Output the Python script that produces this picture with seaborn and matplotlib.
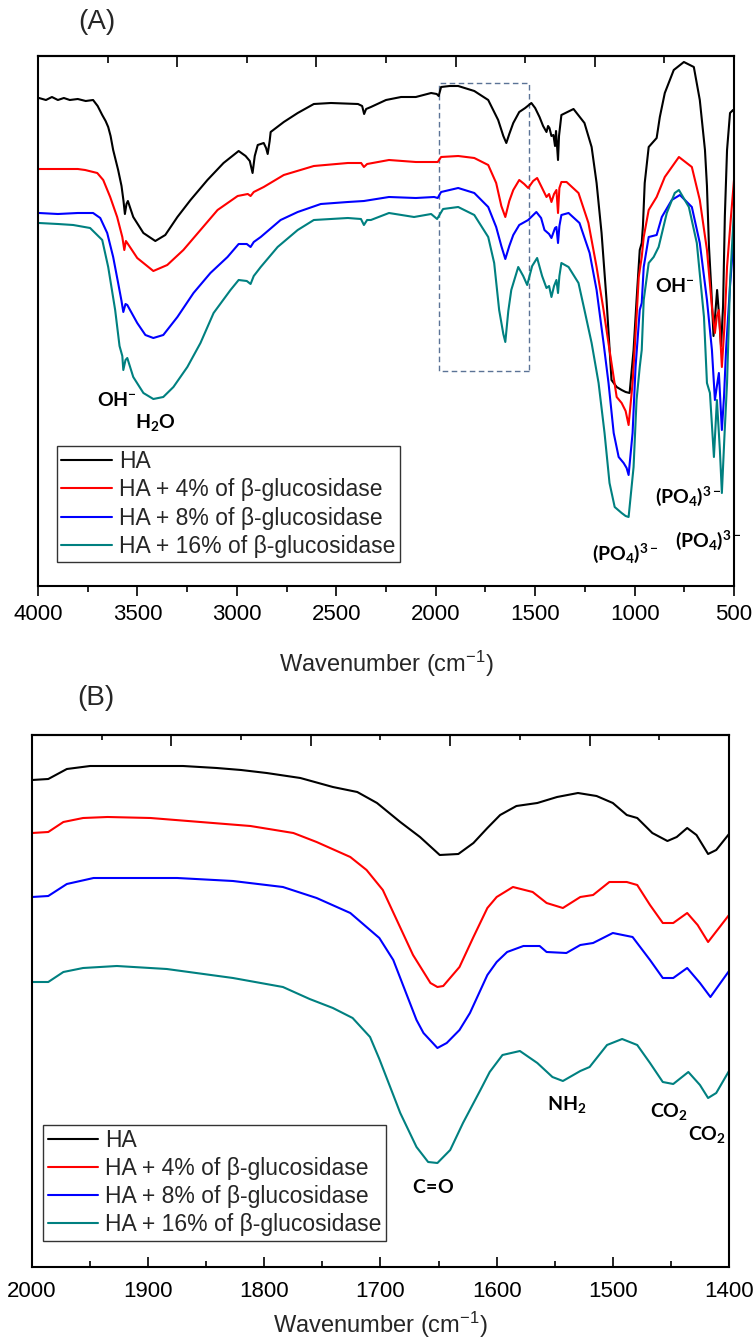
import matplotlib
matplotlib.use("Agg")
import numpy as np
import pandas as pd
import matplotlib.pyplot as plt
from matplotlib.ticker import MultipleLocator, FixedLocator, FormatStrFormatter
from matplotlib.patches import Rectangle
import seaborn as sns

# ---------------- data ----------------
SAMPLES = ["HA", "HA + 4% of β-glucosidase", "HA + 8% of β-glucosidase",
           "HA + 16% of β-glucosidase"]
COLORS = ["#000000", "#ff0000", "#0000ff", "#008080"]

# Panel A : full spectra (wavenumber, transmittance a.u.)
A_HA_WN = [3995, 3960, 3930, 3900, 3870, 3840, 3800, 3760, 3723, 3700, 3677, 3660, 3647, 3635,
           3622, 3597, 3580, 3570, 3563, 3555, 3548, 3521, 3470, 3410, 3360, 3299, 3233, 3148,
           3067, 2991, 2956, 2935, 2921, 2910, 2895, 2865, 2853, 2845, 2835, 2830, 2764, 2694,
           2613, 2527, 2391, 2370, 2360, 2350, 2326, 2250, 2174, 2100, 2023, 1995, 1985, 1973,
           1930, 1887, 1806, 1736, 1686, 1660, 1645, 1630, 1610, 1580, 1550, 1519, 1500, 1478,
           1460, 1443, 1435, 1428, 1418, 1408, 1400, 1395, 1385, 1380, 1368, 1307, 1252, 1216,
           1191, 1166, 1141, 1116, 1090, 1065, 1045, 1025, 1005, 990, 974, 964, 958, 949, 929,
           889, 873, 848, 803, 752, 702, 672, 646, 636, 626, 615, 603, 595, 585, 575, 565, 555,
           546, 535, 520, 505, 500]
A_HA_T = [488, 486, 489, 486, 488, 486, 487, 485, 486, 480, 471, 465, 459, 450,
          436, 416, 400, 385, 372, 382, 385, 369, 353, 345, 351, 369, 386, 406,
          423, 435, 430, 425, 413, 430, 441, 443, 438, 432, 445, 454, 464, 473,
          482, 483, 482, 480, 472, 477, 479, 486, 489, 489, 493, 492, 490, 499,
          500, 500, 495, 486, 466, 450, 443, 452, 463, 474, 478, 483, 478, 469,
          460, 454, 460, 458, 450, 451, 440, 455, 426, 450, 471, 477, 463, 439,
          403, 353, 286, 206, 199, 196, 194, 193, 236, 286, 336, 343, 360, 403, 439,
          448, 469, 493, 516, 524, 519, 486, 436, 400, 340, 300, 250, 270, 296, 270, 240, 280,
          370, 436, 473, 476, 474]

A_4_WN = [3995, 3900, 3800, 3763, 3702, 3672, 3637, 3602, 3576, 3566, 3558, 3551, 3501, 3420,
          3350, 3269, 3183, 3097, 2996, 2945, 2931, 2915, 2865, 2764, 2613, 2442, 2375, 2361,
          2345, 2235, 2100, 2008, 1990, 1973, 1887, 1806, 1736, 1696, 1670, 1650, 1630, 1610,
          1580, 1555, 1535, 1510, 1490, 1470, 1443, 1430, 1418, 1405, 1393, 1385, 1378, 1368,
          1342, 1282, 1232, 1191, 1156, 1126, 1090, 1065, 1045, 1030, 1010, 990, 979, 964, 954,
          929, 889, 848, 777, 712, 672, 636, 611, 596, 586, 576, 561, 548, 535, 515, 500]
A_4_T = [417, 417, 417, 416, 413, 406, 389, 369, 349, 336, 345, 343, 328, 315,
         321, 336, 356, 376, 390, 392, 390, 394, 399, 411, 420, 423, 423, 419,
         422, 426, 424, 424, 424, 429, 430, 428, 421, 403, 380, 369, 385, 396,
         406, 402, 398, 405, 408, 400, 389, 392, 384, 392, 396, 373, 398, 404,
         404, 393, 363, 319, 276, 236, 189, 183, 175, 161, 203, 269, 309, 329, 349,
         376, 389, 409, 429, 419, 386, 336, 279, 253, 270, 276, 219, 260, 319, 370, 406]

A_8_WN = [3995, 3900, 3800, 3723, 3687, 3652, 3622, 3597, 3580, 3571, 3560, 3551, 3501, 3460,
          3420, 3370, 3299, 3218, 3133, 3047, 2991, 2950, 2931, 2915, 2880, 2780, 2694, 2578,
          2442, 2361, 2235, 2100, 2008, 1990, 1973, 1887, 1806, 1736, 1696, 1670, 1650, 1630,
          1610, 1580, 1535, 1494, 1470, 1453, 1430, 1418, 1400, 1393, 1385, 1378, 1368, 1332,
          1277, 1226, 1191, 1156, 1131, 1105, 1080, 1055, 1040, 1030, 1010, 995, 974, 964, 954,
          929, 889, 863, 813, 772, 712, 672, 636, 611, 596, 586, 576, 561, 550, 540, 520, 500]
A_8_T = [373, 372, 373, 373, 368, 353, 329, 303, 285, 274, 282, 281, 263, 251,
         248, 251, 269, 293, 313, 329, 342, 342, 339, 344, 349, 366, 374, 382,
         384, 385, 389, 388, 389, 388, 394, 398, 393, 379, 359, 340, 327, 340,
         351, 361, 366, 374, 368, 356, 352, 348, 358, 359, 343, 360, 371, 373,
         363, 333, 296, 243, 203, 153, 129, 123, 118, 111, 153, 219, 276, 283, 319,
         349, 351, 369, 386, 391, 379, 343, 286, 236, 186, 200, 213, 156, 190, 236, 300, 353]

A_16_WN = [3995, 3900, 3823, 3738, 3677, 3647, 3612, 3590, 3576, 3571, 3560, 3551, 3521, 3470,
           3420, 3370, 3319, 3249, 3183, 3117, 3032, 2991, 2950, 2931, 2915, 2880, 2795, 2694,
           2613, 2442, 2376, 2361, 2345, 2326, 2235, 2109, 2023, 1993, 1963, 1887, 1806, 1736,
           1706, 1681, 1660, 1650, 1635, 1620, 1585, 1560, 1540, 1515, 1490, 1465, 1443, 1430,
           1418, 1405, 1393, 1385, 1378, 1368, 1332, 1282, 1252, 1216, 1181, 1151, 1126, 1100,
           1065, 1045, 1030, 1005, 990, 974, 964, 954, 929, 904, 879, 838, 798, 777, 727, 687,
           651, 636, 621, 601, 586, 571, 561, 548, 535, 520, 500]
A_16_T = [363, 362, 361, 358, 346, 319, 276, 240, 230, 216, 226, 228, 209, 193,
          187, 189, 199, 219, 243, 273, 296, 306, 305, 302, 310, 319, 339, 356,
          366, 368, 367, 361, 366, 366, 373, 369, 372, 367, 377, 379, 371, 349,
          323, 276, 252, 244, 275, 296, 319, 310, 301, 320, 328, 310, 298, 300,
          289, 300, 306, 293, 310, 323, 319, 303, 276, 243, 203, 153, 103, 79,
          73, 70, 69, 119, 186, 219, 236, 286, 323, 329, 339, 373, 393, 396, 379, 343,
          269, 203, 193, 129, 186, 136, 93, 150, 203, 303, 376]

# Panel B : 2000-1400 cm-1 detail
B_HA_WN = [2000, 1986, 1970, 1950, 1910, 1870, 1841, 1820, 1798, 1769, 1741, 1720, 1703, 1683,
           1666, 1649, 1633, 1620, 1608, 1597, 1583, 1565, 1548, 1530, 1514, 1500, 1488, 1479,
           1466, 1453, 1445, 1436, 1428, 1418, 1411, 1400]
B_HA_T = [487, 488, 498, 501, 501, 501, 499, 497, 494, 489, 480, 475, 464, 445,
          430, 412, 413, 424, 439, 452, 461, 464, 470, 474, 471, 464, 452, 449,
          434, 426, 430, 439, 432, 413, 417, 433]

B_4_WN = [2000, 1986, 1973, 1956, 1935, 1898, 1855, 1812, 1775, 1755, 1726, 1712, 1698, 1686,
          1672, 1657, 1651, 1646, 1632, 1620, 1608, 1600, 1586, 1569, 1557, 1543, 1528, 1517,
          1503, 1488, 1479, 1468, 1457, 1448, 1436, 1427, 1418, 1400]
B_4_T = [434, 435, 445, 449, 450, 449, 445, 441, 434, 425, 410, 397, 377, 347,
         312, 284, 280, 281, 300, 330, 359, 370, 380, 375, 364, 359, 370, 372,
         385, 385, 382, 362, 344, 344, 354, 342, 325, 352]

B_8_WN = [2000, 1986, 1970, 1947, 1875, 1827, 1784, 1755, 1726, 1712, 1701, 1689, 1680, 1669,
          1663, 1651, 1643, 1632, 1623, 1608, 1600, 1591, 1577, 1563, 1557, 1540, 1528, 1517,
          1500, 1483, 1468, 1457, 1448, 1436, 1425, 1416, 1400]
B_8_T = [370, 371, 383, 389, 389, 386, 380, 369, 354, 340, 329, 307, 280, 247,
         234, 219, 224, 237, 254, 292, 305, 315, 321, 321, 315, 314, 322, 324,
         334, 330, 307, 289, 289, 299, 284, 270, 296]

B_16_WN = [2000, 1986, 1973, 1956, 1927, 1884, 1827, 1784, 1761, 1741, 1724, 1709, 1701, 1695,
           1683, 1669, 1659, 1651, 1640, 1629, 1614, 1606, 1595, 1580, 1565, 1552, 1543, 1528,
           1520, 1505, 1492, 1479, 1468, 1457, 1448, 1435, 1425, 1418, 1411, 1400]
B_16_T = [285, 285, 295, 299, 301, 298, 289, 280, 268, 259, 249, 230, 208, 190,
          154, 120, 105, 104, 117, 144, 177, 195, 212, 216, 204, 190, 186, 196,
          200, 222, 228, 222, 204, 185, 183, 195, 182, 169, 174, 196]

ZOOM_BOX = (1983, 1529, 215, 503)   # wavenumber range and level of the dashed box

# ---------------- style ----------------
sns.set_style("ticks")
plt.rcParams.update({
    "font.family": ["Liberation Sans", "DejaVu Sans"],
    "mathtext.fontset": "custom",
    "mathtext.rm": "Liberation Sans",
    "mathtext.it": "Liberation Sans:italic",
    "mathtext.bf": "Lato:bold",
    "mathtext.default": "regular",
    "axes.linewidth": 1.5,
    "axes.edgecolor": "black",
    "xtick.color": "black",
    "xtick.labelcolor": "black",
})


def long_df(series):
    rows = []
    for name, wn, t in series:
        for w, v in zip(wn, t):
            rows.append((name, w, v))
    return pd.DataFrame(rows, columns=["sample", "wavenumber", "T"])


dfA = long_df([(SAMPLES[0], A_HA_WN, A_HA_T), (SAMPLES[1], A_4_WN, A_4_T),
               (SAMPLES[2], A_8_WN, A_8_T), (SAMPLES[3], A_16_WN, A_16_T)])
dfB = long_df([(SAMPLES[0], B_HA_WN, B_HA_T), (SAMPLES[1], B_4_WN, B_4_T),
               (SAMPLES[2], B_8_WN, B_8_T), (SAMPLES[3], B_16_WN, B_16_T)])

fig = plt.figure(figsize=(7.55, 13.40), dpi=100)
axA = fig.add_axes([38 / 755, 1 - 586 / 1340, 696 / 755, 530 / 1340])
axB = fig.add_axes([32 / 755, 1 - 1267 / 1340, 697 / 755, 532 / 1340])

palette = dict(zip(SAMPLES, COLORS))
for ax, df in ((axA, dfA), (axB, dfB)):
    sns.lineplot(data=df, x="wavenumber", y="T", hue="sample", hue_order=SAMPLES,
                 palette=palette, sort=False, estimator=None, linewidth=1.5, ax=ax)
    ax.set_yticks([])
    ax.set_ylabel("")
    for s in ax.spines.values():
        s.set_visible(True)
        s.set_linewidth(1.5)
        s.set_color("black")

legend_kw = dict(title=None, frameon=True, fontsize=16.5, handlelength=2.2,
                 handletextpad=0.3, labelspacing=0.22, borderpad=0.2, borderaxespad=0,
                 fancybox=False, edgecolor="#333333", framealpha=1)
sns.move_legend(axA, "lower left", bbox_to_anchor=(0.027, 0.045), **legend_kw)
sns.move_legend(axB, "lower left", bbox_to_anchor=(0.016, 0.049), **legend_kw)
for ax in (axA, axB):
    leg = ax.get_legend()
    leg.get_frame().set_linewidth(1.0)
    for ln in leg.get_lines():
        ln.set_linewidth(1.5)

# ---- panel A axes ----
axA.set_xlim(4000, 500)
axA.set_ylim(0, 530)
axA.xaxis.set_major_locator(MultipleLocator(500))
axA.xaxis.set_minor_locator(MultipleLocator(250))
axA.xaxis.set_major_formatter(FormatStrFormatter("%d"))
axA.tick_params(axis="x", which="major", direction="out", length=7, width=1.2,
                labelsize=16, pad=6, top=False)
axA.tick_params(axis="x", which="minor", direction="out", length=4.5, width=1.2, top=False)
topA = axA.secondary_xaxis("top")
topA.xaxis.set_major_locator(FixedLocator([4000, 3300, 2600, 1900, 1200, 500]))
topA.xaxis.set_minor_locator(FixedLocator([3650, 2950, 2250, 1550, 850]))
topA.tick_params(axis="x", which="major", direction="in", length=8, width=1.2, labeltop=False)
topA.tick_params(axis="x", which="minor", direction="in", length=5, width=1.2)
topA.spines["top"].set_linewidth(1.5)
axA.set_xlabel("Wavenumber (cm$^{-1}$)", fontsize=17)
axA.xaxis.set_label_coords(0.5, -0.118)

x0, x1, y0, y1 = ZOOM_BOX
axA.add_patch(Rectangle((x1, y0), x0 - x1, y1 - y0, fill=False, edgecolor="#5b7396",
                        linewidth=1.0, linestyle=(0, (4, 2.5))))

ann = dict(fontsize=14, color="black", ha="left", va="baseline")
axA.text(3702, 180, r"$\mathbf{OH^{-}}$", **ann)
axA.text(3511, 158, r"$\mathbf{H_{2}O}$", **ann)
axA.text(899, 294, r"$\mathbf{OH^{-}}$", **ann)
axA.text(1216, 26, r"$\mathbf{(PO_{4})^{3-}}$", **ann)
axA.text(899, 83, r"$\mathbf{(PO_{4})^{3-}}$", **ann)
axA.text(798, 39, r"$\mathbf{(PO_{4})^{3-}}$", **ann)

# ---- panel B axes ----
axB.set_xlim(2000, 1400)
axB.set_ylim(0, 532)
axB.xaxis.set_major_locator(MultipleLocator(100))
axB.xaxis.set_minor_locator(MultipleLocator(50))
axB.xaxis.set_major_formatter(FormatStrFormatter("%d"))
axB.tick_params(axis="x", which="major", direction="in", length=7, width=1.2,
                labelsize=16, pad=10, top=False)
axB.tick_params(axis="x", which="minor", direction="in", length=4.5, width=1.2, top=False)
topB = axB.secondary_xaxis("top")
topB.xaxis.set_major_locator(FixedLocator([2000, 1880, 1760, 1640, 1520, 1400]))
topB.xaxis.set_minor_locator(FixedLocator([1940, 1820, 1700, 1580, 1460]))
topB.tick_params(axis="x", which="major", direction="in", length=8, width=1.2, labeltop=False)
topB.tick_params(axis="x", which="minor", direction="in", length=3.5, width=1.2)
topB.spines["top"].set_linewidth(1.5)
axB.set_xlabel("Wavenumber (cm$^{-1}$)", fontsize=17)
axB.xaxis.set_label_coords(0.5, -0.08)

axB.text(1673, 74, r"$\mathbf{C\!=\!O}$", **ann)
axB.text(1557, 157, r"$\mathbf{NH_{2}}$", **ann)
axB.text(1468, 150, r"$\mathbf{CO_{2}}$", **ann)
axB.text(1435, 127, r"$\mathbf{CO_{2}}$", **ann)

fig.text(97 / 755, 1 - 22 / 1340, "(A)", fontsize=20, ha="center", va="center")
fig.text(96 / 755, 1 - 698 / 1340, "(B)", fontsize=20, ha="center", va="center")

fig.savefig("out.png", dpi=100)
